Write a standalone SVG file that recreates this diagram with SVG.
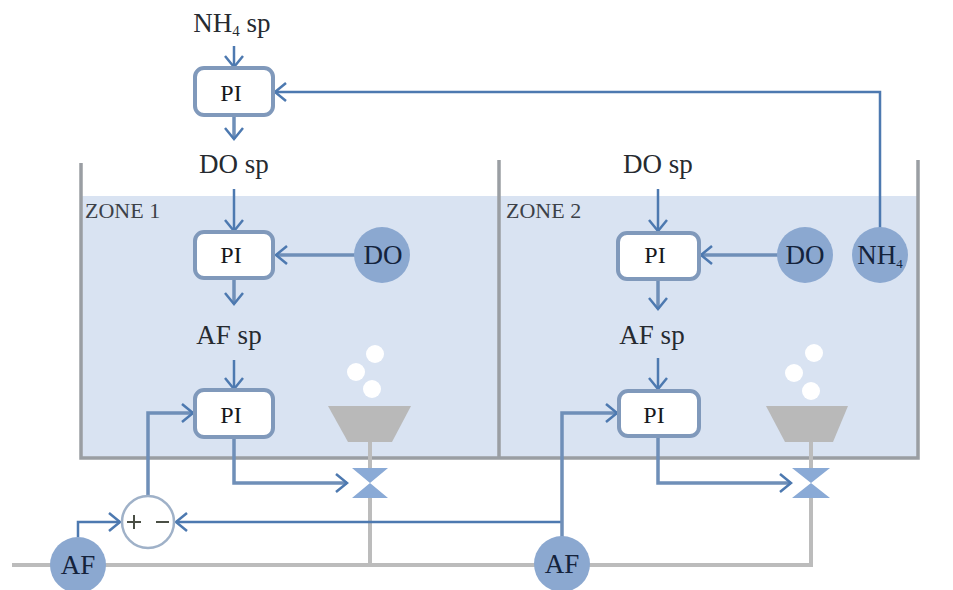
<svg xmlns="http://www.w3.org/2000/svg" width="953" height="590" viewBox="0 0 953 590">
<style>
text{font-family:"Liberation Serif",serif;fill:#262a30;text-anchor:middle}
.lbl{font-size:27px}
.pi{font-size:24px;fill:#16181c}
.zone{font-size:22px;fill:#3c4148;text-anchor:start}
.cir{font-size:27px;fill:#14233c}
.box{fill:#fff;stroke:#8099bb;stroke-width:4}
.sensor{fill:#8ba8d0}
.wall{fill:none;stroke:#9a9ea3;stroke-width:3.5}
.pipe{fill:none;stroke:#bcbcbc;stroke-width:4}
.sig{fill:none;stroke:#4d79b0;stroke-width:2.5;marker-end:url(#arr)}
.sigt{fill:none;stroke:#6f8fb8;stroke-width:3.5;marker-end:url(#arr)}
.bub{fill:#fff}
.blow{fill:#b9b9b9}
.valve{fill:#8aaad6}
</style>
<defs>
<marker id="arr" markerUnits="userSpaceOnUse" markerWidth="18" markerHeight="22" refX="14" refY="11" orient="auto">
<path d="M3 2 L14 11 L3 20" fill="none" stroke="#4d79b0" stroke-width="2.5"/>
</marker>
</defs>
<rect width="953" height="590" fill="#fff"/>
<g id="tank">
<rect x="81" y="196" width="837" height="262" fill="#d9e3f2"/>
<path class="wall" d="M81 163V458H918V160M499 160V458"/>
<text class="zone" x="85" y="218">ZONE 1</text>
<text class="zone" x="506" y="218">ZONE 2</text>
</g>
<g id="pipes">
<path class="pipe" d="M12 565H811V498M370 565V498M370 468V442M811 468V442"/>
</g>
<g id="connectors">
<path class="sig" d="M234 46V67"/>
<path class="sigt" d="M234 117V139"/>
<path class="sig" d="M234 189V231"/>
<path class="sigt" d="M234 279V304"/>
<path class="sig" d="M234 360V389"/>
<path class="sigt" d="M234 438V483H347"/>
<path class="sigt" d="M148 496V413H193"/>
<path class="sig" d="M78 537V522H120"/>
<path class="sig" d="M562 522H176"/>
<path class="sigt" d="M355 255H276"/>
<path class="sig" d="M880 228V92H275"/>
<path class="sig" d="M658 189V231"/>
<path class="sigt" d="M658 280V309"/>
<path class="sig" d="M658 358V389"/>
<path class="sigt" d="M658 438V483H791"/>
<path class="sigt" d="M562 537V413H617"/>
<path class="sigt" d="M778 255H701"/>
</g>
<g id="label-nh4sp"><text class="lbl" x="232" y="32">NH<tspan font-size="15" dy="4">4</tspan><tspan dy="-4"> sp</tspan></text></g>
<g id="label-dosp1"><text class="lbl" x="234" y="173">DO sp</text></g>
<g id="label-afsp1"><text class="lbl" x="229" y="344">AF sp</text></g>
<g id="label-dosp2"><text class="lbl" x="658" y="173">DO sp</text></g>
<g id="label-afsp2"><text class="lbl" x="652" y="344">AF sp</text></g>
<g id="pi-nh4"><rect class="box" x="195" y="68" width="78" height="47" rx="9"/><text class="pi" x="231" y="101">PI</text></g>
<g id="pi-do1"><rect class="box" x="195" y="232" width="78" height="46" rx="9"/><text class="pi" x="231" y="263">PI</text></g>
<g id="pi-af1"><rect class="box" x="195" y="390" width="78" height="47" rx="9"/><text class="pi" x="231" y="423">PI</text></g>
<g id="pi-do2"><rect class="box" x="618" y="233" width="81" height="46" rx="9"/><text class="pi" x="655" y="263">PI</text></g>
<g id="pi-af2"><rect class="box" x="619" y="391" width="80" height="45" rx="9"/><text class="pi" x="654" y="423">PI</text></g>
<g id="sensor-do1"><circle class="sensor" cx="382" cy="255" r="28"/><text class="cir" x="383" y="264">DO</text></g>
<g id="sensor-do2"><circle class="sensor" cx="805" cy="255" r="28"/><text class="cir" x="805" y="264">DO</text></g>
<g id="sensor-nh4"><circle class="sensor" cx="880" cy="255" r="28"/><text class="cir" x="880" y="264" font-size="25">NH<tspan font-size="13" dy="4">4</tspan></text></g>
<g id="sensor-af1"><circle class="sensor" cx="78" cy="565" r="28"/><text class="cir" x="78" y="574" font-size="25">AF</text></g>
<g id="sensor-af2"><circle class="sensor" cx="562" cy="564" r="28"/><text class="cir" x="562" y="573" font-size="25">AF</text></g>
<g id="sum"><circle cx="148" cy="522" r="26" fill="#fff" stroke="#9fb1c8" stroke-width="2.5"/><path d="M127 522H141M134 515V529M156 522H169" stroke="#4a4f45" stroke-width="2" fill="none"/></g>
<g id="blower1"><path class="blow" d="M328 406H411L392 442H348Z"/><circle class="bub" cx="375" cy="354" r="9"/><circle class="bub" cx="356" cy="372" r="9"/><circle class="bub" cx="372" cy="389" r="9"/></g>
<g id="blower2"><path class="blow" d="M766 406H848L833 442H785Z"/><circle class="bub" cx="814" cy="353" r="9"/><circle class="bub" cx="794" cy="373" r="9"/><circle class="bub" cx="811" cy="391" r="9"/></g>
<g id="valve1"><path class="valve" d="M352 468H388L352 498H388Z"/></g>
<g id="valve2"><path class="valve" d="M792 468H830L792 498H830Z"/></g>
</svg>
